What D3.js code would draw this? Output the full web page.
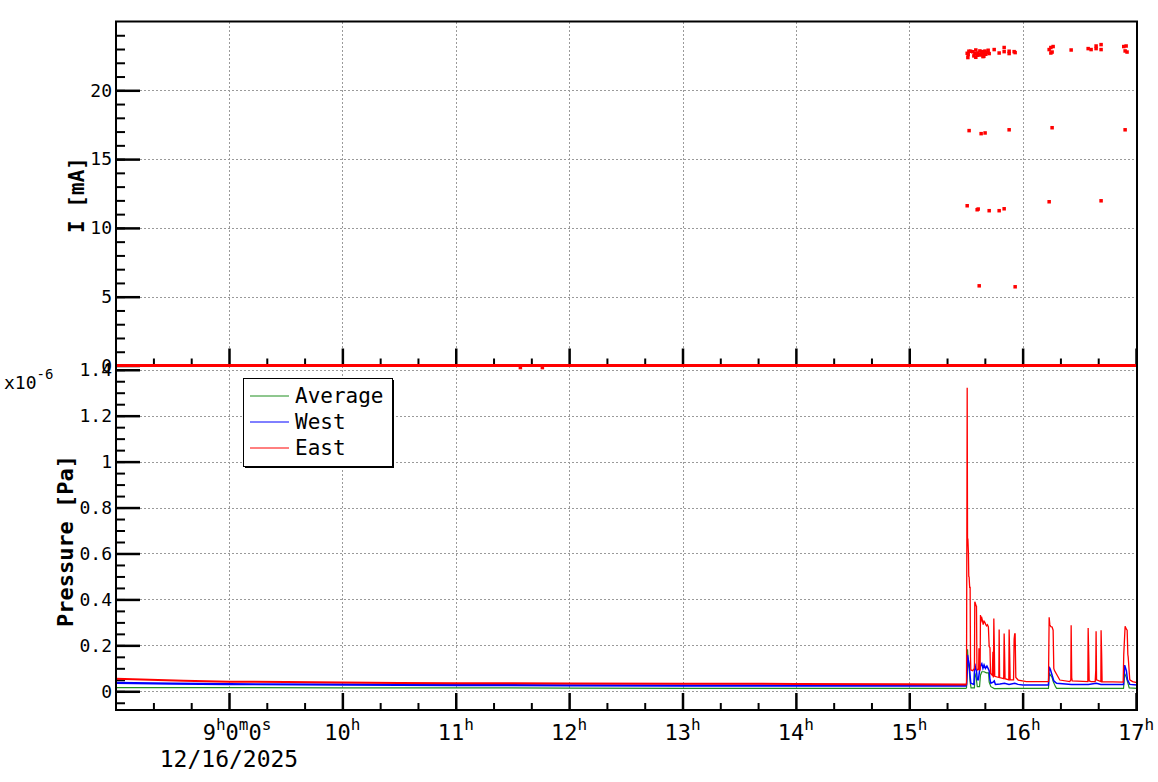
<!DOCTYPE html>
<html><head><meta charset="utf-8">
<script src="https://cdn.jsdelivr.net/npm/d3@7"></script>
<style>
body{margin:0;background:#fff}
svg{display:block}
text{font-family:"DejaVu Sans Mono",monospace;fill:#000}
</style>
</head><body>
<svg id="c" width="1158" height="782"></svg>
<script>
// ---------------- data ----------------
const hourTicks = [9,10,11,12,13,14,15,16,17];
const hourTickLabels = ["9h0m0s","10h","11h","12h","13h","14h","15h","16h","17h"];
const minorHourTicks = [8.3333,8.6667,9.3333,9.6667,10.3333,10.6667,11.3333,11.6667,12.3333,12.6667,13.3333,13.6667,14.3333,14.6667,15.3333,15.6667,16.3333,16.6667];
const dateLabel = "12/16/2025";

const currentTickValues = [0,5,10,15,20];
const currentTickLabels = ["0","5","10","15","20"];
const pressureTickValues = [0,0.2,0.4,0.6,0.8,1.0,1.2,1.4];
const pressureTickLabels = ["0","0.2","0.4","0.6","0.8","1","1.2","1.4"];

// Beam current [mA]: hour of day, value
const currentHours = [15.511,15.517,15.526,15.541,15.579,15.587,15.587,15.605,15.623,15.629,15.646,15.658,15.675,15.696,15.705,15.749,15.793,15.837,15.837,15.881,15.881,15.925,15.934,
  15.600,15.615,15.640,15.660,15.690,15.560,15.520,15.570,15.650,15.668,
  16.234,16.249,16.269,16.249,16.260,16.428,16.578,16.604,16.648,16.648,16.692,16.692,16.892,16.913,16.904,16.921,
  15.528,15.634,15.669,15.881,16.260,16.904,
  15.511,15.599,15.608,15.705,15.793,15.837,16.234,16.692,
  15.617,15.934,
  11.570,11.764];
const currentValues = [22.69,22.38,22.84,22.84,22.67,22.93,22.40,22.71,22.86,22.57,22.81,22.47,22.62,22.91,22.67,22.96,22.71,23.11,22.81,22.84,22.67,22.81,22.74,
  22.55,22.60,22.70,22.65,22.75,22.80,22.60,22.50,22.45,22.85,
  22.96,23.11,23.18,22.71,22.78,22.93,23.03,22.96,23.22,23.03,23.32,22.96,23.18,23.22,22.86,22.78,
  17.07,16.85,16.90,17.13,17.28,17.13,
  11.61,11.32,11.37,11.25,11.25,11.39,11.90,11.97,
  5.79,5.72,
  -0.15,-0.15];
const currentZeroHours = [8.0033,17.0088];
const currentZeroValues = [0,0];

// Pressure [x1e-6 Pa]
const averageHours = [8.0033,9,10,11,12,13,14,15,15.505,15.511,15.514,15.520,15.528,15.537,15.545,15.575,15.578,15.590,15.600,15.620,15.628,15.640,15.660,15.680,15.700,15.705,15.720,15.750,16.0,16.228,16.234,16.260,16.270,16.290,16.300,16.890,16.900,16.915,16.925,16.940,17.0088];
const averageValues = [0.016,0.016,0.015,0.015,0.014,0.013,0.013,0.013,0.013,0.10,0.183,0.12,0.10,0.04,0.015,0.015,0.08,0.06,0.02,0.02,0.07,0.085,0.085,0.08,0.08,0.04,0.02,0.012,0.013,0.013,0.078,0.06,0.042,0.02,0.013,0.013,0.078,0.06,0.042,0.015,0.013];

const westHours = [8.0033,8.5,9,10,11,12,13,14,15,15.505,15.511,15.514,15.520,15.528,15.533,15.540,15.543,15.570,15.578,15.585,15.593,15.600,15.610,15.620,15.628,15.640,15.650,15.660,15.672,15.685,15.695,15.705,15.712,15.720,15.740,15.750,15.760,15.800,15.840,15.880,15.930,15.960,16.0,16.228,16.234,16.245,16.260,16.275,16.300,16.430,16.580,16.650,16.690,16.890,16.900,16.915,16.925,16.945,17.0088];
const westValues = [0.037,0.033,0.031,0.029,0.027,0.026,0.025,0.024,0.024,0.025,0.08,0.158,0.14,0.122,0.09,0.05,0.035,0.03,0.12,0.10,0.09,0.05,0.05,0.09,0.11,0.12,0.10,0.115,0.10,0.11,0.10,0.09,0.05,0.035,0.04,0.045,0.03,0.032,0.035,0.03,0.035,0.03,0.027,0.027,0.107,0.095,0.07,0.045,0.035,0.03,0.03,0.035,0.03,0.03,0.114,0.09,0.05,0.03,0.027];

const eastHours = [8.0033,8.3,8.6,9,9.5,10,10.5,11,11.5,12,13,14,15,15.505,15.511,15.514,15.517,15.522,15.525,15.528,15.533,15.537,15.540,15.543,15.560,15.575,15.578,15.581,15.590,15.593,15.597,15.602,15.612,15.615,15.620,15.625,15.628,15.632,15.637,15.645,15.652,15.660,15.667,15.675,15.682,15.690,15.698,15.705,15.712,15.717,15.732,15.738,15.742,15.746,15.750,15.754,15.790,15.793,15.797,15.833,15.837,15.841,15.845,15.878,15.881,15.886,15.890,15.920,15.925,15.930,15.934,15.940,15.961,16.034,16.228,16.234,16.240,16.249,16.260,16.269,16.275,16.281,16.328,16.416,16.425,16.428,16.433,16.437,16.575,16.578,16.583,16.587,16.605,16.640,16.645,16.648,16.652,16.690,16.692,16.697,16.701,16.887,16.892,16.904,16.915,16.922,16.928,16.931,16.945,16.970,17.0088];
const eastValues = [0.055,0.050,0.046,0.042,0.040,0.038,0.036,0.035,0.035,0.034,0.033,0.032,0.031,0.030,1.322,0.66,0.665,0.60,0.50,0.498,0.452,0.452,0.15,0.093,0.090,0.10,0.39,0.387,0.372,0.37,0.10,0.093,0.095,0.187,0.10,0.09,0.332,0.30,0.325,0.31,0.29,0.305,0.30,0.29,0.285,0.29,0.28,0.194,0.19,0.078,0.07,0.172,0.06,0.317,0.20,0.065,0.06,0.269,0.06,0.055,0.252,0.165,0.055,0.05,0.269,0.158,0.05,0.05,0.226,0.25,0.25,0.06,0.049,0.042,0.042,0.322,0.29,0.281,0.28,0.266,0.10,0.09,0.049,0.042,0.05,0.287,0.06,0.045,0.042,0.275,0.158,0.045,0.042,0.042,0.09,0.261,0.05,0.042,0.266,0.16,0.042,0.04,0.16,0.283,0.27,0.266,0.16,0.15,0.05,0.042,0.038];

const legendLabels = ["Average","West","East"];
const seriesColors = ["#1f8f1f","#0000ff","#ff0000"];

// ---------------- layout ----------------
const L = 116, R = 1137, T = 21.5, MID = 365.5, B = 710;
const svg = d3.select("#c");
const x = d3.scaleLinear().domain([8.0033, 17.0088]).range([L, R]);
const yI = d3.scaleLinear().domain([0, 25]).range([MID, T]);
const yP = d3.scaleLinear().domain([-0.0815, 1.4185]).range([B, MID]);

const gridStyle = sel => sel.attr("stroke", "#9a9a9a").attr("stroke-width", 1).attr("stroke-dasharray", "2,2").attr("shape-rendering","crispEdges");

// grid - top panel
svg.append("g").selectAll("line").data(hourTicks.filter(h => h < 17)).join("line")
  .attr("x1", d => Math.round(x(d)) + 0.5).attr("x2", d => Math.round(x(d)) + 0.5)
  .attr("y1", T).attr("y2", MID).call(gridStyle);
svg.append("g").selectAll("line").data(currentTickValues.filter(v => v > 0)).join("line")
  .attr("x1", L).attr("x2", R).attr("y1", d => Math.round(yI(d)) + 0.5).attr("y2", d => Math.round(yI(d)) + 0.5).call(gridStyle);
// grid - bottom panel
svg.append("g").selectAll("line").data(hourTicks.filter(h => h < 17)).join("line")
  .attr("x1", d => Math.round(x(d)) + 0.5).attr("x2", d => Math.round(x(d)) + 0.5)
  .attr("y1", MID).attr("y2", B).call(gridStyle);
svg.append("g").selectAll("line").data(pressureTickValues).join("line")
  .attr("x1", L).attr("x2", R).attr("y1", d => Math.round(yP(d)) + 0.5).attr("y2", d => Math.round(yP(d)) + 0.5).call(gridStyle);

// ---------------- axes ----------------
function styleAxis(g, w) {
  g.select(".domain").remove();
  g.selectAll(".tick line").attr("stroke", "#000").attr("stroke-width", w);
  g.selectAll("text").attr("font-family", "DejaVu Sans Mono").attr("font-size", 18).attr("fill", "#000");
}
// current y axis
svg.append("g").attr("transform", `translate(${L},0)`)
  .call(d3.axisLeft(yI).tickValues(d3.range(1, 25)).tickSize(-9).tickFormat(""))
  .call(g => styleAxis(g, 2));
svg.append("g").attr("transform", `translate(${L},0)`)
  .call(d3.axisLeft(yI).tickValues(currentTickValues).tickSize(-24).tickPadding(4)
    .tickFormat((d, i) => currentTickLabels[i]))
  .call(g => styleAxis(g, 2.5));
// pressure y axis
svg.append("g").attr("transform", `translate(${L},0)`)
  .call(d3.axisLeft(yP).tickValues(d3.range(-1, 29).map(i => i * 0.05)).tickSize(-9).tickFormat(""))
  .call(g => styleAxis(g, 2));
svg.append("g").attr("transform", `translate(${L},0)`)
  .call(d3.axisLeft(yP).tickValues(pressureTickValues).tickSize(-24).tickPadding(4)
    .tickFormat((d, i) => pressureTickLabels[i]))
  .call(g => styleAxis(g, 2.5));

// x axes: top panel (at MID) and bottom panel (at B)
[MID, B].forEach(yy => {
  svg.append("g").attr("transform", `translate(0,${yy})`)
    .call(d3.axisBottom(x).tickValues(minorHourTicks).tickSize(-7).tickFormat(""))
    .call(g => styleAxis(g, 2));
  svg.append("g").attr("transform", `translate(0,${yy})`)
    .call(d3.axisBottom(x).tickValues(hourTicks).tickSize(-17).tickFormat(""))
    .call(g => styleAxis(g, 2.5));
});

// x tick labels with superscripts
const xl = svg.append("g");
hourTickLabels.forEach((lab, i) => {
  const shift = lab.length > 4 ? 8 : 0;
  const t = xl.append("text").attr("x", x(hourTicks[i]) + shift).attr("y", 740)
    .attr("text-anchor", "middle").attr("font-size", 22);
  const parts = lab.match(/(\d+|[a-z])/g);
  let sup = false;
  parts.forEach(p => {
    const isSup = /[a-z]/.test(p);
    const ts = t.append("tspan").text(p);
    if (isSup) { ts.attr("font-size", 16).attr("dy", sup ? 0 : -10); sup = true; }
    else { ts.attr("dy", sup ? 10 : 0); sup = false; }
  });
});
svg.append("text").attr("x", 229).attr("y", 767).attr("text-anchor", "middle")
  .attr("font-size", 23).text(dateLabel);

// exponent label
const ex = svg.append("text").attr("x", 4).attr("y", 389).attr("font-size", 18);
ex.append("tspan").text("x10");
ex.append("tspan").attr("font-size", 14).attr("dy", -10).text("-6");

// axis titles
svg.append("text").attr("transform", "translate(84,195) rotate(-90)").attr("text-anchor", "middle")
  .attr("font-size", 21).attr("font-weight", "bold").text("I [mA]");
svg.append("text").attr("transform", "translate(73,541) rotate(-90)").attr("text-anchor", "middle")
  .attr("font-size", 22).attr("font-weight", "bold").text("Pressure [Pa]");

// ---------------- data marks ----------------
const toPts = (hs, vs) => hs.map((h, i) => [h, vs[i]]);
const lineP = d3.line().x(d => x(d[0])).y(d => yP(d[1]));
const pressureSeries = [toPts(averageHours, averageValues), toPts(westHours, westValues), toPts(eastHours, eastValues)];
const quietWidths = [1.3, 2.2, 2.0];   // noisy quiet baseline looks thicker
const activeWidths = [1.2, 1.5, 1.3];
const splitHour = 15.505;
pressureSeries.forEach((s, i) => {
  const quiet = s.filter(d => d[0] <= splitHour);
  const active = s.filter(d => d[0] >= splitHour);
  svg.append("path").datum(quiet).attr("d", lineP).attr("fill", "none")
    .attr("stroke", seriesColors[i]).attr("stroke-width", quietWidths[i]);
  svg.append("path").datum(active).attr("d", lineP).attr("fill", "none")
    .attr("stroke", seriesColors[i]).attr("stroke-width", activeWidths[i]);
});

// current zero band (dense zero-valued samples)
const lineI = d3.line().x(d => x(d[0])).y(d => yI(d[1]));
svg.append("path").datum(toPts(currentZeroHours, currentZeroValues)).attr("d", lineI)
  .attr("fill", "none").attr("stroke", "#ff0000").attr("stroke-width", 3.2);
svg.append("g").selectAll("rect").data(toPts(currentHours, currentValues)).join("rect")
  .attr("x", d => x(d[0]) - 1.75).attr("y", d => yI(d[1]) - 1.75)
  .attr("width", 3.5).attr("height", 3.5).attr("fill", "#ff0000");

// frame
svg.append("rect").attr("x", L).attr("y", T).attr("width", R - L).attr("height", B - T)
  .attr("fill", "none").attr("stroke", "#000").attr("stroke-width", 2);

// legend
const lg = svg.append("g");
lg.append("rect").attr("x", 245).attr("y", 380).attr("width", 149).attr("height", 88).attr("fill", "#000");
lg.append("rect").attr("x", 243.5).attr("y", 378.5).attr("width", 149).attr("height", 88)
  .attr("fill", "#fff").attr("stroke", "#000").attr("stroke-width", 1);
legendLabels.forEach((lab, i) => {
  const yy = 396 + i * 26;
  lg.append("line").attr("x1", 250).attr("x2", 289).attr("y1", yy).attr("y2", yy)
    .attr("stroke", seriesColors[i]).attr("stroke-width", 1);
  lg.append("text").attr("x", 295).attr("y", yy + 7).attr("font-size", 21).text(lab);
});
</script>
</body></html>
